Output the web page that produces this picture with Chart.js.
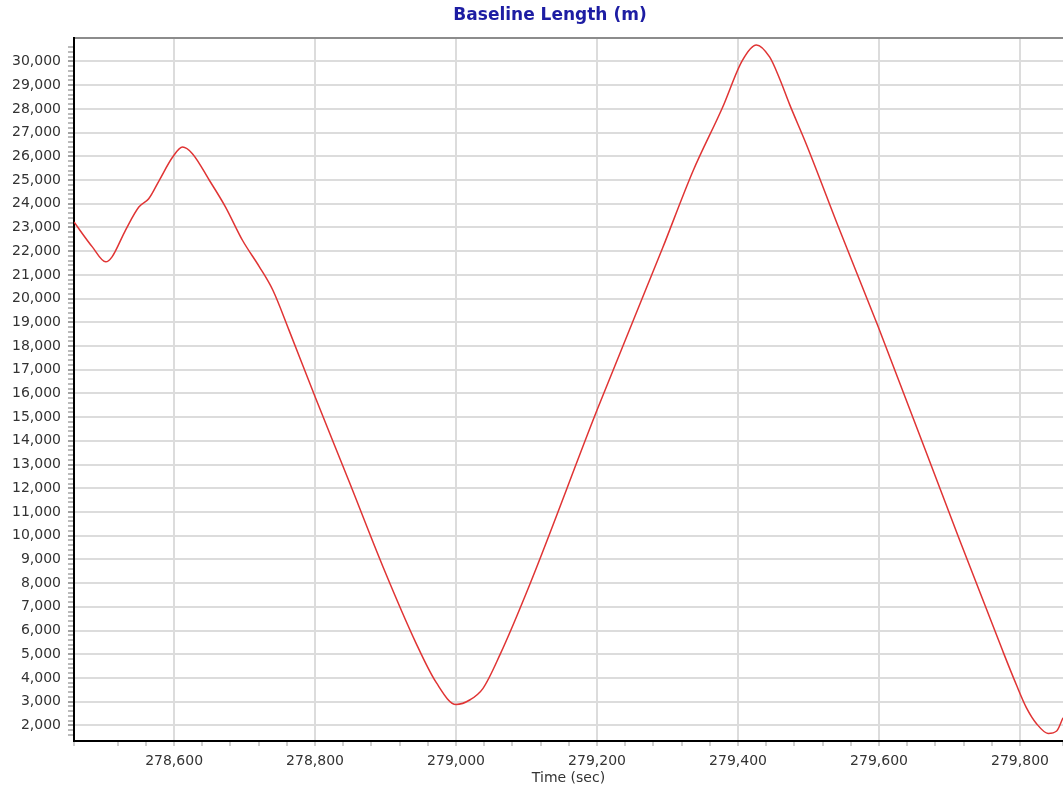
<!DOCTYPE html>
<html>
<head>
<meta charset="utf-8">
<script src="https://cdn.jsdelivr.net/npm/chart.js@4/dist/chart.umd.min.js"></script>
<style>
  html, body { margin: 0; padding: 0; background: #ffffff; }
  #wrap { position: relative; width: 1063px; height: 791px; }
  #title { position: absolute; left: 0; top: 4px; width: 1100px; text-align: center;
           font: bold 17px "DejaVu Sans", Verdana, sans-serif; color: #1d1da3; }
  canvas { position: absolute; left: 0; top: 0; }
</style>
</head>
<body>
<div id="wrap">
  <canvas id="c" width="1063" height="791"></canvas>
  <div id="title">Baseline Length (m)</div>
</div>
<script>
// ---- data ----
const chartTitle = "Baseline Length (m)";
const xAxisTitle = "Time (sec)";
const timeSec = [278458, 278484, 278503, 278512, 278531, 278550, 278564, 278579, 278598, 278612,
                 278626, 278650, 278673, 278697, 278721, 278740, 278763, 278800, 278849, 278896,
                 278943, 278972, 279000, 279020, 279038, 279062, 279104, 279200, 279293, 279336,
                 279378, 279406, 279426, 279445, 279459, 279473, 279497, 279544, 279599, 279712,
                 279776, 279795, 279809, 279824, 279840, 279852, 279861];
const baselineM = [23230, 22180, 21550, 21760, 22880, 23860, 24210, 24990, 25970, 26390,
                   26110, 24990, 23860, 22460, 21340, 20360, 18670, 15860, 12230, 8710,
                   5480, 3800, 2880, 3080, 3550, 4960, 7900, 15300, 22130, 25370,
                   28060, 30040, 30700, 30180, 29270, 28200, 26500, 22900, 18800, 10000,
                   5100, 3700, 2750, 2050, 1660, 1760, 2320];
const xMin = 278458, xMax = 279861;
const yMin = 1340, yMax = 30990;
const xMajorStep = 200, xMinorStep = 40;
const yMajorStep = 1000, yMinorStep = 200;

const points = timeSec.map((t, i) => ({ x: t, y: baselineM[i] }));
const fmt = v => Number(v).toLocaleString('en-US');
const FONT = "'DejaVu Sans', Verdana, sans-serif";

new Chart(document.getElementById('c'), {
  type: 'line',
  data: {
    datasets: [{
      label: chartTitle,
      data: points,
      borderColor: '#e03434',
      borderWidth: 1.5,
      pointRadius: 0,
      fill: false,
      cubicInterpolationMode: 'monotone'
    }]
  },
  options: {
    responsive: false,
    animation: false,
    devicePixelRatio: 1,
    layout: { padding: { left: 5, top: 38, right: 0, bottom: 0 } },
    plugins: {
      legend: { display: false },
      tooltip: { enabled: false },
      title: { display: false }
    },
    scales: {
      x: {
        type: 'linear',
        min: xMin, max: xMax,
        afterFit: s => { s.paddingRight = 0; s.height = 50; },
        ticks: {
          stepSize: xMinorStep, autoSkip: false, maxTicksLimit: 1000, maxRotation: 0,
          padding: 7, color: '#333', font: { family: FONT, size: 14 },
          callback: v => (v % xMajorStep === 0 ? fmt(v) : '')
        },
        grid: {
          color: ctx => (ctx.tick && ctx.tick.value % xMajorStep === 0 ? '#dcdcdc' : 'rgba(0,0,0,0)'),
          lineWidth: 2,
          tickLength: 5,
          tickColor: '#a0a0a0',
          tickWidth: 1
        },
        border: { color: '#000', width: 2 },
        title: { display: true, text: xAxisTitle, color: '#333', font: { family: FONT, size: 14 },
                 padding: { top: 0, bottom: 4 } }
      },
      y: {
        type: 'linear',
        min: yMin, max: yMax,
        ticks: {
          stepSize: yMinorStep, autoSkip: false, maxTicksLimit: 1000,
          padding: 7, color: '#333', font: { family: FONT, size: 14 },
          callback: v => (v % yMajorStep === 0 ? fmt(v) : '')
        },
        grid: {
          color: ctx => {
            if (!ctx.tick) return 'rgba(0,0,0,0)';
            if (ctx.tick.value === yMax) return '#8c8c8c';
            return ctx.tick.value % yMajorStep === 0 ? '#dcdcdc' : 'rgba(0,0,0,0)';
          },
          lineWidth: 2,
          tickLength: 6,
          tickColor: ctx => (ctx.tick && ctx.tick.value % yMajorStep === 0 ? '#444' : (ctx.tick && ctx.tick.value % yMinorStep === 0 ? '#777' : 'rgba(0,0,0,0)')),
          tickWidth: 1
        },
        border: { color: '#000', width: 2 }
      }
    }
  }
});
</script>
</body>
</html>
